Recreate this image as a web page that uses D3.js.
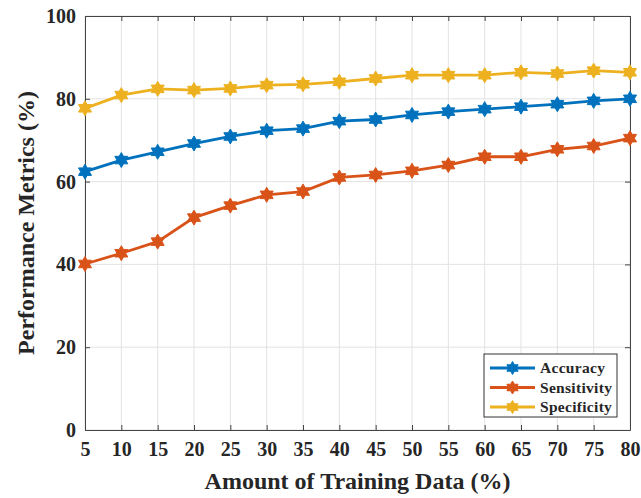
<!DOCTYPE html>
<meta charset="utf-8">
<html lang="en">
<head>
    <title>Performance Metrics vs Amount of Training Data</title>
    <script src="https://d3js.org/d3.v7.min.js"></script>
    <style>
        body { margin: 0; background: #fff; }
        text { font-family: "Liberation Serif", "Times New Roman", serif; font-weight: bold; fill: #262626; }
    </style>
</head>
<body>
<div id="my_dataviz"></div>
<script>

  // data
  var trainPct = [5, 10, 15, 20, 25, 30, 35, 40, 45, 50, 55, 60, 65, 70, 75, 80];
  var accuracy = [62.4, 65.2, 67.2, 69.2, 70.9, 72.3, 72.8, 74.6, 75.0, 76.1, 76.9, 77.5, 78.1, 78.7, 79.5, 80.0];
  var sensitivity = [40.1, 42.7, 45.5, 51.3, 54.2, 56.8, 57.6, 61.0, 61.6, 62.6, 64.0, 66.0, 66.0, 67.8, 68.6, 70.5];
  var specificity = [77.7, 80.9, 82.4, 82.1, 82.5, 83.3, 83.5, 84.1, 84.9, 85.7, 85.7, 85.7, 86.4, 86.1, 86.8, 86.4];
  var seriesNames = ["Accuracy", "Sensitivity", "Specificity"];
  var yTicks = [0, 20, 40, 60, 80, 100];

  var colors = ["#0072BD", "#D95319", "#EDB120"];
  var allSeries = [accuracy, sensitivity, specificity];

  // set the dimensions and margins of the graph
  var margin = {top: 16, right: 11, bottom: 68, left: 85},
      width = 641 - margin.left - margin.right,
      height = 498 - margin.top - margin.bottom;

  var svg = d3.select("#my_dataviz")
    .append("svg")
      .attr("width", 641)
      .attr("height", 498)
    .append("g")
      .attr("transform", "translate(" + margin.left + "," + margin.top + ")");

  var x = d3.scaleLinear().domain([5, 80]).range([0, width]);
  var y = d3.scaleLinear().domain([0, 100]).range([height, 0]);

  // grid lines
  svg.append("g")
    .selectAll("line.vgrid")
    .data(trainPct)
    .enter().append("line")
      .attr("x1", function(d) { return x(d); })
      .attr("x2", function(d) { return x(d); })
      .attr("y1", 0).attr("y2", height)
      .style("stroke", "#e3e3e3").style("stroke-width", 1);
  svg.append("g")
    .selectAll("line.hgrid")
    .data(yTicks)
    .enter().append("line")
      .attr("x1", 0).attr("x2", width)
      .attr("y1", function(d) { return y(d); })
      .attr("y2", function(d) { return y(d); })
      .style("stroke", "#e3e3e3").style("stroke-width", 1);

  // axes (ticks inside, box on)
  var axisColor = "#444";
  var xAxis = svg.append("g")
    .attr("transform", "translate(0," + height + ")")
    .call(d3.axisBottom(x).tickValues(trainPct).tickSizeInner(-5).tickSizeOuter(0).tickPadding(12));
  var yAxis = svg.append("g")
    .call(d3.axisLeft(y).tickValues(yTicks).tickSizeInner(-5).tickSizeOuter(0).tickPadding(9));
  svg.append("g")
    .call(d3.axisTop(x).tickValues(trainPct).tickSizeInner(-5).tickSizeOuter(0).tickFormat(""));
  svg.append("g")
    .attr("transform", "translate(" + width + ",0)")
    .call(d3.axisRight(y).tickValues(yTicks).tickSizeInner(-5).tickSizeOuter(0).tickFormat(""));

  svg.selectAll(".domain").style("stroke", axisColor);
  svg.selectAll(".tick line").style("stroke", axisColor);
  svg.selectAll(".tick text")
    .style("font-family", "Liberation Serif, serif")
    .style("font-weight", "bold")
    .style("font-size", "20px")
    .style("fill", "#262626");

  // hexagram marker
  function hexagram(r) {
    var pts = [];
    for (var i = 0; i < 12; i++) {
      var a = Math.PI / 2 + i * Math.PI / 6;
      var rr = (i % 2 === 0) ? r : r * 0.58;
      pts.push([rr * Math.cos(a), -rr * Math.sin(a)]);
    }
    return "M" + pts.map(function(p) { return p[0].toFixed(2) + "," + p[1].toFixed(2); }).join("L") + "Z";
  }

  var line = d3.line()
    .x(function(d, i) { return x(trainPct[i]); })
    .y(function(d) { return y(d); });

  // lines and markers
  allSeries.forEach(function(vals, s) {
    svg.append("path")
      .datum(vals)
      .attr("d", line)
      .style("fill", "none")
      .style("stroke", colors[s])
      .style("stroke-width", 2.8);

    svg.append("g")
      .selectAll("path")
      .data(vals)
      .enter().append("path")
        .attr("d", hexagram(7.5))
        .attr("transform", function(d, i) { return "translate(" + x(trainPct[i]) + "," + y(d) + ")"; })
        .style("fill", colors[s])
        .style("stroke", colors[s])
        .style("stroke-width", 1);
  });

  // axis labels
  svg.append("text")
    .attr("x", width / 2)
    .attr("y", height + 59)
    .style("text-anchor", "middle")
    .style("font-size", "24px")
    .text("Amount of Training Data (%)");

  svg.append("text")
    .attr("transform", "rotate(-90)")
    .attr("x", -height / 2)
    .attr("y", -margin.left + 34)
    .style("text-anchor", "middle")
    .style("font-size", "24px")
    .text("Performance Metrics (%)");

  // legend
  var legend = svg.append("g")
    .attr("transform", "translate(" + (484 - margin.left) + "," + (354 - margin.top) + ")");
  legend.append("rect")
    .attr("width", 133).attr("height", 63)
    .style("fill", "#fff").style("stroke", "#333").style("stroke-width", 1);
  seriesNames.forEach(function(name, s) {
    var ly = 14 + s * 19.5;
    legend.append("line")
      .attr("x1", 6).attr("x2", 51)
      .attr("y1", ly).attr("y2", ly)
      .style("stroke", colors[s]).style("stroke-width", 2.8);
    legend.append("path")
      .attr("d", hexagram(6.5))
      .attr("transform", "translate(28.5," + ly + ")")
      .style("fill", colors[s]).style("stroke", colors[s]);
    legend.append("text")
      .attr("x", 56).attr("y", ly + 5)
      .style("font-size", "15.5px")
      .style("letter-spacing", "0.3px")
      .text(name);
  });

</script>
</body>
</html>
